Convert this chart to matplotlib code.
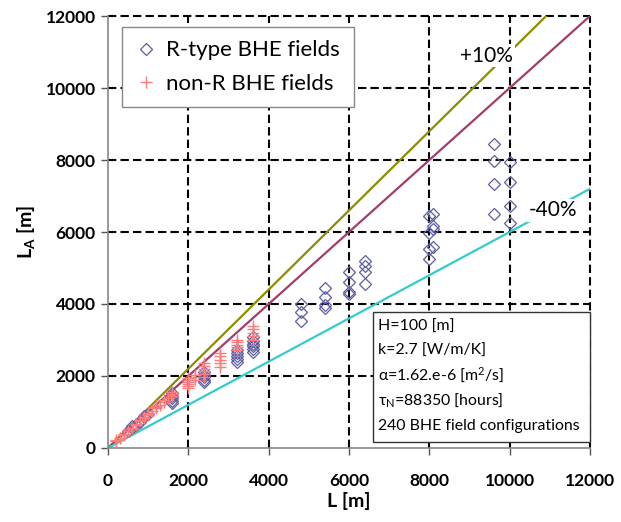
import matplotlib
matplotlib.use("Agg")
import matplotlib.pyplot as plt
from matplotlib.patches import Rectangle
import numpy as np

plt.rcParams['font.family'] = ['Lato', 'DejaVu Sans']
plt.rcParams['mathtext.fontset'] = 'custom'
plt.rcParams['mathtext.rm'] = 'Lato'
plt.rcParams['mathtext.it'] = 'Lato:italic'
plt.rcParams['mathtext.bf'] = 'Lato:bold'
plt.rcParams['mathtext.default'] = 'rm'

# ---- data ----
r_L = [500, 600, 600, 700, 800, 800, 900, 900, 1000,
       1600, 1600, 1600, 1600, 1600,
       2400, 2400, 2400, 2400, 2400,
       3200, 3200, 3200, 3200, 3200,
       3600, 3600, 3600, 3600, 3600, 3600,
       4800, 4800, 4800,
       5400, 5400, 5400, 5400,
       6000, 6000, 6000, 6000,
       6400, 6400, 6400, 6400,
       8000, 8000, 8000, 8000,
       8100, 8100, 8100, 8100,
       9600, 9600, 9600, 9600,
       10000, 10000, 10000, 10000]
r_LA = [480, 560, 600, 650, 720, 760, 860, 900, 950,
        1530, 1450, 1380, 1300, 1250,
        2110, 2040, 1970, 1900, 1830,
        2720, 2640, 2560, 2480, 2390,
        3080, 2980, 2900, 2820, 2740, 2670,
        4000, 3780, 3530,
        4440, 4200, 3960, 3880,
        4890, 4610, 4330, 4280,
        5190, 5060, 4890, 4560,
        6440, 5970, 5530, 5250,
        6500, 6170, 6080, 5580,
        8440, 7970, 7330, 6500,
        7940, 7390, 6720, 6250]

n_L = [200, 200, 300, 300, 400, 400, 500, 500, 600, 600, 700, 700,
       800, 800, 900, 900, 1000, 1000, 1000, 1100, 1200, 1200, 1200,
       1300, 1400, 1400, 1500, 1600, 1600, 1600,
       2000, 2000, 2000, 2000, 2000, 2000,
       2160, 2160, 2160,
       2400, 2400, 2400, 2400, 2400, 2400,
       2800, 2800, 2800, 2800, 2800,
       3200, 3200, 3200, 3200, 3200,
       3600, 3600, 3600, 3600, 3600]
n_LA = [190, 210, 270, 290, 370, 390, 460, 480, 520, 560, 640, 670,
        740, 770, 830, 860, 920, 950, 980, 1020, 1100, 1140, 1180,
        1200, 1280, 1320, 1380, 1450, 1500, 1550,
        1680, 1730, 1780, 1830, 1880, 1940,
        1890, 1960, 2030,
        1970, 2050, 2130, 2200, 2280, 2360,
        2250, 2350, 2450, 2550, 2640,
        2720, 2800, 2870, 2940, 3000,
        3000, 3100, 3200, 3300, 3390]

line_x = [0, 12000]
ratio_plus = 1.10
ratio_one = 1.00
ratio_minus = 0.60
ticks = [0, 2000, 4000, 6000, 8000, 10000, 12000]
info_lines = ["H=100 [m]", "k=2.7 [W/m/K]", "\u03b1=1.62.e-6 [m$^2$/s]",
              "\u03c4$_N$=88350 [hours]", "240 BHE field configurations"]

fig = plt.figure(figsize=(6.21, 5.22), dpi=100)
ax = fig.add_axes([0.174, 0.1418, 0.776, 0.8275])
ax.set_xlim(0, 12000)
ax.set_ylim(0, 12000)

# grid
for t in ticks[1:]:
    ax.axhline(t, color='black', lw=1.5, ls=(0, (4, 2)), zorder=1, clip_on=False)
    ax.axvline(t, color='black', lw=1.5, ls=(0, (4, 2)), zorder=1, clip_on=False)

lx = np.array(line_x, dtype=float)
ax.plot(lx, lx * ratio_plus, color='#8C8C00', lw=1.6, zorder=2, clip_on=True)
ax.plot(lx, lx * ratio_one, color='#A23C6C', lw=1.6, zorder=2)
ax.plot(lx, lx * ratio_minus, color='#33CCCC', lw=1.6, zorder=2)

ax.plot(r_L, r_LA, linestyle='none', marker='D', ms=6.3, mfc='none',
        mec='#5E5EA6', mew=0.9, zorder=3, label='R-type BHE fields')
ax.plot(n_L, n_LA, linestyle='none', marker='+', ms=9, color='#FF7A7A',
        mew=1.0, zorder=4, label='non-R BHE fields')

ax.text(9430, 10900, '+10%', fontsize=15, ha='center', va='center', zorder=5,
        bbox=dict(facecolor='white', edgecolor='none', pad=1))
ax.text(11070, 6610, '-40%', fontsize=15, ha='center', va='center', zorder=5,
        bbox=dict(facecolor='white', edgecolor='none', pad=1))

leg = ax.legend(loc='upper left', bbox_to_anchor=(0.029, 0.9745), fontsize=16,
                frameon=True, fancybox=False, edgecolor='#888888', framealpha=1,
                handletextpad=0.4, borderpad=0.6, labelspacing=0.6,
                handlelength=1.0, borderaxespad=0)
leg.get_frame().set_linewidth(1.0)
leg.set_zorder(6)

# info box
ax.add_patch(Rectangle((0.55, 0.014), 0.45, 0.301, transform=ax.transAxes,
                       facecolor='white', edgecolor='#333333', lw=1.0, zorder=6,
                       clip_on=False))
ys = [0.280, 0.226, 0.167, 0.111, 0.052]
for line, yy in zip(info_lines, ys):
    ax.text(0.561, yy, line, transform=ax.transAxes, fontsize=11.4,
            ha='left', va='center', zorder=7)

ax.set_xticks(ticks)
ax.set_yticks(ticks)
ax.set_xticklabels([str(t) for t in ticks], fontweight='bold', fontsize=12.5)
ax.set_yticklabels([str(t) for t in ticks], fontweight='bold', fontsize=12.5)
ax.tick_params(axis='both', direction='out', length=5, width=1, color='#555555', pad=4)
ax.tick_params(axis='x', pad=13)

for s in ['top', 'right']:
    ax.spines[s].set_visible(False)
for s in ['left', 'bottom']:
    ax.spines[s].set_color('#888888')
    ax.spines[s].set_linewidth(1.2)

ax.set_xlabel('L [m]', fontsize=14, fontweight='bold', labelpad=2)
ax.set_ylabel(r'$\mathbf{L_A\ [m]}$', fontsize=14, labelpad=6)

fig.savefig('out.png', dpi=100)
